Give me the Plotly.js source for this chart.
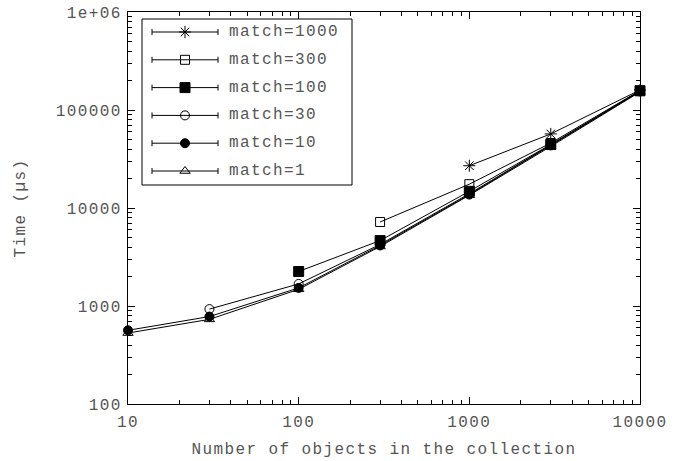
<!DOCTYPE html>
<html><head><meta charset="utf-8">
<script src="https://cdn.plot.ly/plotly-3.0.1.min.js"></script>
<style>
html,body{margin:0;padding:0;background:#fff;}
#chart{width:686px;height:461px;}
svg text{letter-spacing:1.4px;}
</style></head><body><div id="chart"></div>
<script>
// ---- data ----
const seriesNames = ['match=1000','match=300','match=100','match=30','match=10','match=1'];
const xMatch1000 = [1000, 3000, 10000];
const yMatch1000 = [27000, 57000, 160000];
const xMatch300 = [300, 1000, 3000, 10000];
const yMatch300 = [7200, 17500, 46000, 158000];
const xMatch100 = [100, 300, 1000, 3000, 10000];
const yMatch100 = [2250, 4650, 14800, 44500, 157000];
const xMatch30 = [30, 100, 300, 1000, 3000, 10000];
const yMatch30 = [930, 1680, 4250, 14000, 44000, 155000];
const xMatch10 = [10, 30, 100, 300, 1000, 3000, 10000];
const yMatch10 = [565, 780, 1530, 4150, 13700, 43500, 155000];
const xMatch1 = [10, 30, 100, 300, 1000, 3000, 10000];
const yMatch1 = [530, 730, 1480, 4050, 13500, 42500, 153000];
const xTickVals = [10, 100, 1000, 10000];
const xTickText = ['10', '100', '1000', '10000'];
const yTickVals = [100, 1000, 10000, 100000, 1000000];
const yTickText = ['100', '1000', '10000', '100000', '1e+06'];

// ---- styles ----
const FONT = '"Liberation Mono", "Courier New", monospace';
const TXT = '#555';
const symbols = ['asterisk-open','square-open','square','circle-open','circle','triangle-up-open'];
const sizes = [10, 9, 10, 9, 9, 9];
const xs = [xMatch1000, xMatch300, xMatch100, xMatch30, xMatch10, xMatch1];
const ys = [yMatch1000, yMatch300, yMatch100, yMatch30, yMatch10, yMatch1];

function minorVals(a, b) {
  const v = [];
  for (let d = a; d < b; d++) for (let k = 2; k <= 9; k++) v.push(k * Math.pow(10, d));
  return v;
}

const traces = [];
for (let i = 0; i < seriesNames.length; i++) {
  traces.push({
    type: 'scatter', mode: 'lines+markers', name: seriesNames[i],
    x: xs[i], y: ys[i], showlegend: false,
    line: {color: '#000', width: 1},
    marker: {symbol: symbols[i], size: sizes[i], color: '#000', line: {color: '#000', width: 1}},
    cliponaxis: false
  });
}

// custom gnuplot-style key, positioned in pixel space via overlay axes
const L = 128, R = 640, T = 12, B = 404;
const keyRow0 = 32, keyStep = 27.8, keyCx = 185, keyHalf = 33, keyTextX = 227;
const annotations = [];
for (let i = 0; i < seriesNames.length; i++) {
  const yy = keyRow0 + i * keyStep;
  traces.push({
    type: 'scatter', mode: 'markers', xaxis: 'x2', yaxis: 'y2', showlegend: false,
    x: [keyCx], y: [yy], hoverinfo: 'skip',
    marker: {symbol: symbols[i], size: sizes[i], color: '#000', line: {color: '#000', width: 1}},
    error_x: {type: 'constant', value: keyHalf, width: 3, thickness: 1, color: '#000'}
  });
  annotations.push({
    xref: 'x2', yref: 'y2', x: keyTextX, y: yy, text: seriesNames[i],
    xanchor: 'left', yanchor: 'middle', showarrow: false,
    font: {family: FONT, size: 16, color: TXT}
  });
}

const layout = {
  width: 686, height: 461,
  margin: {l: L, r: 686 - R, t: T, b: 461 - B, pad: 0},
  paper_bgcolor: '#fff', plot_bgcolor: '#fff',
  showlegend: false,
  font: {family: FONT, size: 16, color: TXT},
  xaxis: {
    type: 'log', range: [1, 4], tickvals: xTickVals, ticktext: xTickText,
    ticks: 'inside', ticklen: 7, tickwidth: 1, tickcolor: '#000',
    showline: true, linecolor: '#000', linewidth: 1, mirror: 'allticks',
    showgrid: false, zeroline: false, ticklabelstandoff: 3,
    tickfont: {family: FONT, size: 16, color: TXT},
    minor: {tickvals: minorVals(1, 4), ticks: 'inside', ticklen: 4, tickcolor: '#000', showgrid: false},
    title: {text: 'Number of objects in the collection', font: {family: FONT, size: 16, color: TXT}, standoff: 11}
  },
  yaxis: {
    type: 'log', range: [2, 6], tickvals: yTickVals, ticktext: yTickText,
    ticks: 'inside', ticklen: 7, tickwidth: 1, tickcolor: '#000',
    showline: true, linecolor: '#000', linewidth: 1, mirror: 'allticks',
    showgrid: false, zeroline: false, ticklabelstandoff: 2,
    tickfont: {family: FONT, size: 16, color: TXT},
    minor: {tickvals: minorVals(2, 6), ticks: 'inside', ticklen: 4, tickcolor: '#000', showgrid: false},
    title: {text: 'Time (µs)', font: {family: FONT, size: 16, color: TXT}, standoff: 26}
  },
  xaxis2: {overlaying: 'x', range: [L, R], visible: false, fixedrange: true},
  yaxis2: {overlaying: 'y', range: [B, T], visible: false, fixedrange: true},
  shapes: [{
    type: 'rect', xref: 'x2', yref: 'y2', x0: 142, x1: 352, y0: 19, y1: 185,
    line: {color: '#000', width: 1}, fillcolor: 'rgba(0,0,0,0)', layer: 'below'
  }],
  annotations: annotations
};

Plotly.newPlot('chart', traces, layout, {displayModeBar: false, staticPlot: true});
</script></body></html>
